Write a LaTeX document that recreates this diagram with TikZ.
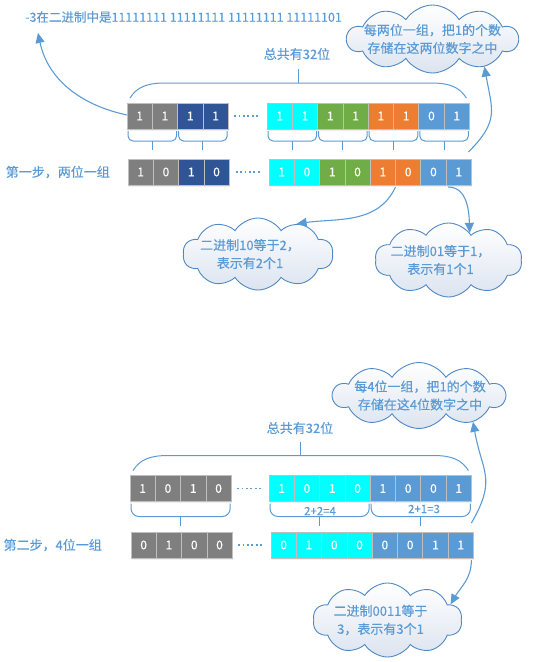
\documentclass[tikz,border=0pt]{standalone}
\usepackage{fontspec}
\setmainfont[FakeBold=0.3]{Noto Sans CJK SC}
\usetikzlibrary{positioning, calc, arrows.meta, shapes.symbols, shadows}
\definecolor{txtblue}{HTML}{5B9BD5}
\definecolor{cellgray}{HTML}{7F7F7F}
\definecolor{celldark}{HTML}{2F5597}
\definecolor{cellcyan}{HTML}{00FFFF}
\definecolor{cellgreen}{HTML}{70AD47}
\definecolor{cellorange}{HTML}{ED7D31}
\definecolor{cellblue}{HTML}{5B9BD5}
\definecolor{cellline}{HTML}{BFBFBF}
\definecolor{cloudline}{HTML}{5088C4}
\definecolor{cloudfill}{HTML}{DCE4F0}
\newcommand{\notefont}{\fontsize{13}{18}\selectfont}
\newcommand{\titlefont}{\fontsize{12.5}{15}\selectfont}
\newcommand{\cellfont}{\fontsize{12}{14}\selectfont}
\newcommand{\sumfont}{\fontsize{11.5}{14}\selectfont}
\tikzset{
    cell/.style={draw=cellline, line width=0.8pt, minimum width=25.3pt, minimum height=26pt, inner sep=0pt, outer sep=0pt, text=white, font=\cellfont,
        drop shadow={opacity=0.12, shadow xshift=1pt, shadow yshift=-1.5pt}},
    note/.style={text=txtblue, inner sep=0pt, font=\notefont},
    bubble/.style={cloud, cloud puffs=10, cloud puff arc=115, cloud ignores aspect, draw=cloudline, line width=0.9pt,
        top color=white, bottom color=cloudfill, inner sep=0pt},
    say/.style={label={[note, align=center, xshift=#1]center:\bubbletext}},
    brace/.style={draw=txtblue, line width=1pt, rounded corners=5pt},
    dots/.style={draw=txtblue, line width=1.8pt, dash pattern=on 1.8pt off 2.6pt},
    link/.style={draw=txtblue, line width=1.1pt, -{Triangle[length=10pt, width=9pt]}}
}
% brace under a group of cells: depth, first cell, last cell
\newcommand{\cellbrace}[4][5pt]{%
    \draw[brace, rounded corners=#1] ([shift={(1pt,-2pt)}]#3.south west) -- ++(0,-#2) -| ([shift={(-1pt,-2pt)}]#4.south east);
    \draw[brace] ($(#3.south west)!.5!(#4.south east)+(0,-2pt-#2)$) -- ++(0,-9pt);
}
% brace over a whole row
\newcommand{\topbrace}[2]{%
    \draw[brace, sharp corners] ([shift={(3pt,5pt)}]#1.north west) .. controls +(7pt,11pt) and +(-18pt,0pt) .. ++(35pt,15pt)
        -- ([shift={(-38pt,20pt)}]#2.north east) .. controls +(18pt,0pt) and +(-7pt,11pt) .. ++(35pt,-15pt);
    \draw[brace] ($(#1.north west)!.5!(#2.north east)+(0,20pt)$) -- ++(0,14pt);
}

\begin{document}
\begin{tikzpicture}[x=1pt, y=1pt, >=Latex]
  \useasboundingbox (0,0) rectangle (546,-662);
  % step one
  \node(title)[note, font=\titlefont, anchor=west] at (25,-17) {-3在二进制中是11111111 11111111 11111111 11111101};
  \foreach \v/\c [count=\i] in {1/cellgray, 1/cellgray, 1/celldark, 1/celldark}
    \node(a\i)[cell, fill=\c] at ({127+(\i-0.5)*25.3},-116) {\v};
  \foreach \v/\c [count=\i] in {1/cellcyan, 1/cellcyan, 1/cellgreen, 1/cellgreen, 1/cellorange, 1/cellorange, 0/cellblue, 1/cellblue}
    \node(b\i)[cell, fill=\c] at ({267+(\i-0.5)*25.3},-116) {\v};
  \foreach \v/\c [count=\i] in {1/cellgray, 0/cellgray, 1/celldark, 0/celldark}
    \node(c\i)[cell, fill=\c] at ({128+(\i-0.5)*25.3},-172) {\v};
  \foreach \v/\c [count=\i] in {1/cellcyan, 0/cellcyan, 1/cellgreen, 0/cellgreen, 1/cellorange, 0/cellorange, 0/cellblue, 1/cellblue}
    \node(d\i)[cell, fill=\c] at ({269+(\i-0.5)*25.3},-172) {\v};
  \node(step1)[note, left=18pt of c1] {第一步，两位一组};
  \node(sum1)[note] at (297,-54) {总共有32位};
  \def\bubbletext{每两位一组，把1的个数\\存储在这两位数字之中}
  \node(cloud1)[bubble, say=0pt, minimum width=171pt, minimum height=68pt] at (432.5,-39) {};
  \def\bubbletext{二进制10等于2，\\表示有2个1}
  \node(cloud2)[bubble, say=-8pt, minimum width=150pt, minimum height=72pt] at (258,-254) {};
  \def\bubbletext{二进制01等于1，\\表示有1个1}
  \node(cloud3)[bubble, say=-8pt, minimum width=147pt, minimum height=74pt] at (448.5,-260) {};
  \draw[dots] ([xshift=6pt]a4.east) -- ([xshift=-8pt]b1.west);
  \draw[dots] ([xshift=6.5pt]c4.east) -- ([xshift=-8pt]d1.west);
  \topbrace{a1}{b8}
  \cellbrace{10pt}{a1}{a2}
  \cellbrace{10pt}{a3}{a4}
  \cellbrace{10pt}{b1}{b2}
  \cellbrace{10pt}{b3}{b4}
  \cellbrace{10pt}{b5}{b6}
  \cellbrace{10pt}{b7}{b8}
  \draw[link] ([yshift=1pt]a1.west) to[out=168, in=-78] ([shift={(13pt,-10pt)}]title.south west);
  \draw[link] ([shift={(-3pt,7pt)}]d8.north east) to[out=45, in=-80, looseness=1.3] (cloud1.-28);
  \draw[link] ([yshift=-2pt]d5.south east) to[out=-115, in=8] (cloud2.38);
  \draw[link] ([shift={(2pt,-2pt)}]d7.south east) to[out=0, in=92] (cloud3.52);
  % step two
  \foreach \v [count=\i] in {1, 0, 1, 0}
    \node(e\i)[cell, fill=cellgray] at ({130+(\i-0.5)*25.3},-488.5) {\v};
  \foreach \v/\c [count=\i] in {1/cellcyan, 0/cellcyan, 1/cellcyan, 0/cellcyan, 1/cellblue, 0/cellblue, 0/cellblue, 1/cellblue}
    \node(f\i)[cell, fill=\c] at ({269+(\i-0.5)*25.3},-488.5) {\v};
  \foreach \v [count=\i] in {0, 1, 0, 0}
    \node(g\i)[cell, fill=cellgray] at ({131+(\i-0.5)*25.3},-545) {\v};
  \foreach \v/\c [count=\i] in {0/cellcyan, 1/cellcyan, 0/cellcyan, 0/cellcyan, 0/cellblue, 0/cellblue, 1/cellblue, 1/cellblue}
    \node(h\i)[cell, fill=\c] at ({271+(\i-0.5)*25.3},-545) {\v};
  \node(step2)[note, left=29pt of g1] {第二步，4位一组};
  \node(sum2)[note] at (300,-428) {总共有32位};
  \def\bubbletext{每4位一组，把1的个数\\存储在这4位数字之中}
  \node(cloud4)[bubble, say=1pt, minimum width=172pt, minimum height=66pt] at (419,-395.5) {};
  \def\bubbletext{二进制0011等于\\3，表示有3个1}
  \node(cloud5)[bubble, say=-7pt, minimum width=149pt, minimum height=74pt] at (387.5,-620) {};
  \draw[dots] ([xshift=6pt]e4.east) -- ([xshift=-7pt]f1.west);
  \draw[dots] ([xshift=6pt]g4.east) -- ([xshift=-8pt]h1.west);
  \topbrace{e1}{f8}
  \cellbrace[8pt]{13pt}{e1}{e4}
  \cellbrace[8pt]{13pt}{f1}{f4}
  \cellbrace[8pt]{13pt}{f5}{f8}
  \node(add1)[note, font=\sumfont] at (320,-511) {2+2=4};
  \node(add2)[note, font=\sumfont] at (424,-509) {2+1=3};
  \draw[link] ([shift={(-2pt,9pt)}]h8.north east) to[out=60, in=-80, looseness=1.3] (cloud4.-26);
  \draw[link] ([shift={(-2pt,-2pt)}]h8.south east) to[out=-90, in=60] (cloud5.14);
\end{tikzpicture}
\end{document}
